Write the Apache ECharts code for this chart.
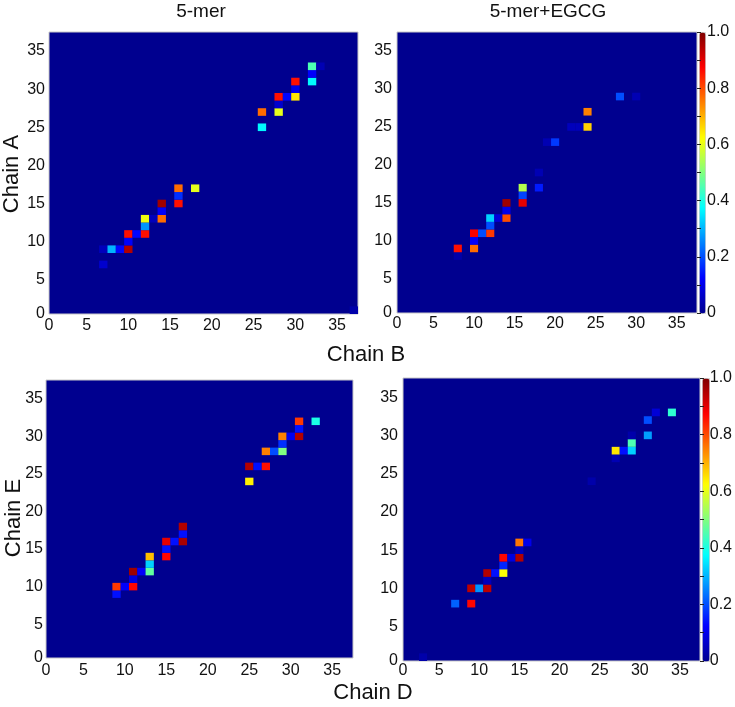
<!DOCTYPE html>
<html>
<head>
<meta charset="utf-8">
<script src="https://cdn.jsdelivr.net/npm/echarts@6/dist/echarts.min.js"></script>
<style>
  html, body { margin: 0; padding: 0; background: #fff; }
  #chart { width: 735px; height: 707px; }
</style>
</head>
<body>
<div id="chart"></div>
<script>
// ---------------- data (cell index x, cell index y, value) ----------------
const panelTitles = ['5-mer', '5-mer+EGCG'];
const axisNames = ['Chain A', 'Chain B', 'Chain E', 'Chain D'];
const tickValues = [0, 5, 10, 15, 20, 25, 30, 35];
const colorbarTicks = [0, 0.1, 0.2, 0.3, 0.4, 0.5, 0.6, 0.7, 0.8, 0.9, 1.0];

const mer5AB = [
  [37,1,0.03],
  [7,7,0.07],
  [7,9,0.05],[8,9,0.3],[9,9,0.13],[10,9,0.95],
  [10,10,0.12],
  [10,11,0.86],[11,11,0.13],[12,11,0.86],
  [12,12,0.27],
  [12,13,0.61],[13,13,0.05],[14,13,0.77],
  [14,14,0.12],
  [14,15,0.97],[16,15,0.86],
  [16,16,0.17],
  [16,17,0.77],[18,17,0.6],
  [26,25,0.37],
  [26,27,0.77],[28,27,0.6],
  [28,28,0.07],
  [28,29,0.86],[29,29,0.13],[30,29,0.65],
  [30,30,0.1],
  [30,31,0.86],[32,31,0.37],
  [32,32,0.12],
  [32,33,0.45],[33,33,0.04]
];

const egcgAB = [
  [8,8,0.03],
  [8,9,0.86],[10,9,0.77],
  [10,10,0.12],
  [10,11,0.88],[11,11,0.2],[12,11,0.82],
  [12,12,0.2],
  [12,13,0.33],[13,13,0.08],[14,13,0.8],
  [14,14,0.1],
  [14,15,0.97],[16,15,0.9],
  [16,16,0.19],
  [16,17,0.55],[18,17,0.15],
  [18,19,0.04],
  [19,23,0.04],[20,23,0.18],
  [22,25,0.05],[23,25,0.05],[24,25,0.67],
  [24,27,0.75],
  [28,29,0.2],[30,29,0.04]
];

const mer5ED = [
  [9,9,0.14],
  [9,10,0.82],[10,10,0.12],[11,10,0.87],
  [11,11,0.09],
  [11,12,0.97],[12,12,0.12],[13,12,0.47],
  [13,13,0.33],
  [13,14,0.69],[15,14,0.87],
  [15,15,0.14],
  [15,16,0.9],[16,16,0.14],[17,16,0.96],
  [17,17,0.14],
  [17,18,0.95],
  [25,24,0.64],
  [25,26,0.95],[26,26,0.14],[27,26,0.86],
  [27,28,0.75],[28,28,0.2],[29,28,0.5],
  [29,29,0.17],
  [29,30,0.75],[30,30,0.11],[31,30,0.95],
  [31,31,0.14],
  [31,32,0.82],[33,32,0.4]
];

const egcgED = [
  [3,1,0.03],
  [7,8,0.22],[9,8,0.87],
  [9,10,0.94],[10,10,0.27],[11,10,0.94],
  [11,11,0.05],
  [11,12,0.95],[12,12,0.14],[13,12,0.62],
  [13,13,0.16],
  [13,14,0.87],[14,14,0.09],[15,14,0.95],
  [15,15,0.05],
  [15,16,0.76],[16,16,0.1],
  [24,24,0.03],
  [27,27,0.04],
  [27,28,0.65],[28,28,0.14],[29,28,0.33],
  [29,29,0.45],
  [29,30,0.03],
  [31,30,0.28],
  [31,32,0.2],
  [32,33,0.08],[34,33,0.42]
];

// ---------------- styling / layout ----------------
const FONT = "'Liberation Sans', Arial, sans-serif";
const AX_MIN = 0.5, AX_MAX = 37.5;
const JET = ['#00008F','#0000FF','#0080FF','#00FFFF','#80FF80','#FFFF00','#FF8000','#FF0000','#800000'];
const BG = '#00008F';

const grids = [
  { left: 49,  top: 32,  width: 309, height: 282 },
  { left: 397, top: 32,  width: 300, height: 281 },
  { left: 46,  top: 380, width: 307, height: 278 },
  { left: 403, top: 378, width: 297, height: 283 },
  { left: 699, top: 32,  width: 6,   height: 281 },
  { left: 702, top: 378, width: 7,   height: 283 }
];
const xMargins = [4, 3, 5, 2];
const yMargins = [4, 5, 3, 5];

const tickPos = tickValues.map(v => Math.max(v, AX_MIN));
const tickFmt = v => (v <= AX_MIN ? '0' : String(v));

const gridOpts = grids.map((g, i) => Object.assign({}, g, i < 4 ? {
  show: true, backgroundColor: BG, borderColor: '#c8c8c8', borderWidth: 1
} : { show: false }));

const xAxes = [], yAxes = [];
for (let i = 0; i < 4; i++) {
  xAxes.push({
    type: 'value', gridIndex: i, min: AX_MIN, max: AX_MAX,
    axisLine: { show: false }, axisTick: { show: false }, splitLine: { show: false },
    axisLabel: { customValues: tickPos, formatter: tickFmt, fontFamily: FONT, fontSize: 16, color: '#111', margin: xMargins[i] }
  });
  yAxes.push({
    type: 'value', gridIndex: i, min: AX_MIN, max: AX_MAX,
    axisLine: { show: false }, axisTick: { show: false }, splitLine: { show: false },
    axisLabel: { customValues: tickPos, formatter: tickFmt, fontFamily: FONT, fontSize: 16, color: '#111', margin: yMargins[i] }
  });
}
// colorbar axes
const cbFmt = v => {
  const k = Math.round(v * 10);
  if (k % 2 !== 0) return '';
  if (k === 0) return '0';
  return (k / 10).toFixed(1);
};
[4, 5].forEach(gi => {
  xAxes.push({ type: 'value', gridIndex: gi, min: 0, max: 1, show: false });
  yAxes.push({
    type: 'value', gridIndex: gi, min: 0, max: 1, position: 'right', z: 10,
    axisLine: { show: false }, splitLine: { show: false },
    axisTick: { show: true, inside: true, length: 2, customValues: colorbarTicks, lineStyle: { color: '#222', width: 1 } },
    axisLabel: { customValues: colorbarTicks, formatter: cbFmt, fontFamily: FONT, fontSize: 16, color: '#111', margin: 2 }
  });
  yAxes.push({
    type: 'value', gridIndex: gi, min: 0, max: 1, position: 'left', z: 10,
    axisLine: { show: false }, splitLine: { show: false },
    axisTick: { show: true, inside: true, length: 2, customValues: colorbarTicks, lineStyle: { color: '#222', width: 1 } },
    axisLabel: { show: false }
  });
});

function renderCell(params, api) {
  const x = api.value(0), y = api.value(1);
  const p = api.coord([x - 0.5, y + 0.5]);
  const s = api.size([1, 1]);
  return {
    type: 'rect',
    shape: { x: p[0], y: p[1], width: s[0], height: s[1] },
    style: { fill: api.visual('color') }
  };
}

const panels = [mer5AB, egcgAB, mer5ED, egcgED];
const series = panels.map((d, i) => ({
  type: 'custom', xAxisIndex: i, yAxisIndex: i, data: d, clip: true,
  encode: { x: 0, y: 1 }, renderItem: renderCell, silent: true
}));

const visualMaps = [
  { seriesIndex: [0, 1], g: grids[4] },
  { seriesIndex: [2, 3], g: grids[5] }
].map(o => ({
  type: 'continuous', min: 0, max: 1, dimension: 2, seriesIndex: o.seriesIndex,
  calculable: false, realtime: false, orient: 'vertical', inverse: false,
  left: o.g.left, top: o.g.top, itemWidth: o.g.width, itemHeight: o.g.height,
  padding: 0, borderColor: '#d0d0d0', borderWidth: 1, text: null, hoverLink: false,
  inRange: { color: JET }
}));

const textStyle = (size) => `${size}px ${FONT}`;
const graphics = [
  { type: 'text', x: 201, y: 12, style: { text: panelTitles[0], font: textStyle(19), fill: '#111', textAlign: 'center', textVerticalAlign: 'middle' } },
  { type: 'text', x: 548, y: 12, style: { text: panelTitles[1], font: textStyle(19), fill: '#111', textAlign: 'center', textVerticalAlign: 'middle' } },
  { type: 'text', x: 12, y: 174, rotation: Math.PI / 2, style: { text: axisNames[0], font: textStyle(22), fill: '#111', textAlign: 'center', textVerticalAlign: 'middle' } },
  { type: 'text', x: 366, y: 355, style: { text: axisNames[1], font: textStyle(22), fill: '#111', textAlign: 'center', textVerticalAlign: 'middle' } },
  { type: 'text', x: 14, y: 518, rotation: Math.PI / 2, style: { text: axisNames[2], font: textStyle(22), fill: '#111', textAlign: 'center', textVerticalAlign: 'middle' } },
  { type: 'text', x: 373, y: 693, style: { text: axisNames[3], font: textStyle(22), fill: '#111', textAlign: 'center', textVerticalAlign: 'middle' } }
];

const chart = echarts.init(document.getElementById('chart'), null, { renderer: 'canvas' });
chart.setOption({
  backgroundColor: '#ffffff',
  animation: false,
  grid: gridOpts,
  xAxis: xAxes,
  yAxis: yAxes,
  visualMap: visualMaps,
  series: series,
  graphic: graphics
});
</script>
</body>
</html>
